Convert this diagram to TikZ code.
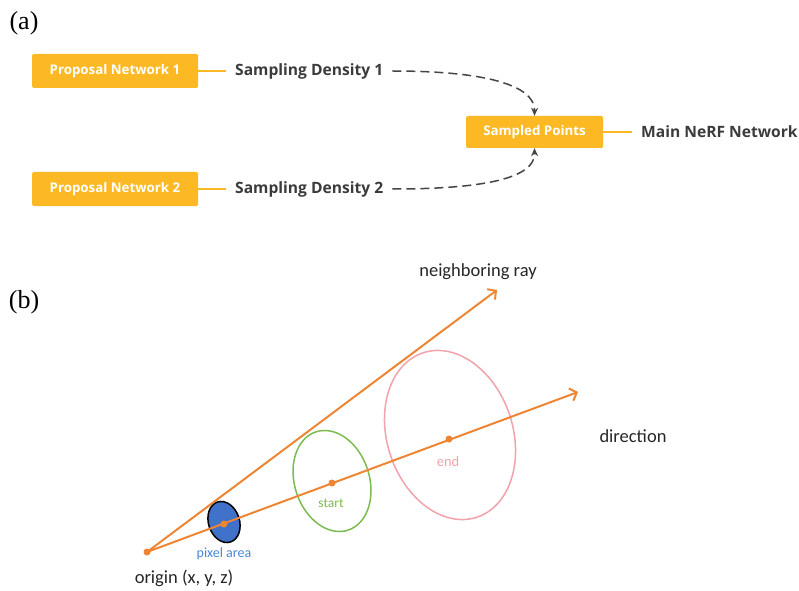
\documentclass[tikz,border=0pt]{standalone}
\usepackage{fontspec}
\setmainfont{Liberation Serif}
\newfontfamily\uifont{Open Sans}
\newfontfamily\calfont{Carlito}
\usetikzlibrary{arrows.meta}
\definecolor{amber}{HTML}{FDB924}
\definecolor{darktxt}{HTML}{3B3B3B}
\definecolor{dashgray}{HTML}{454545}
\definecolor{rayorange}{HTML}{EE8533}
\definecolor{startgreen}{HTML}{7CBB4F}
\definecolor{endpink}{HTML}{F2A2AA}
\definecolor{pixblue}{HTML}{3F72C8}
\definecolor{pixtxt}{HTML}{4A86D8}
\tikzset{
  x=1pt, y=1pt,
  ybox/.style={fill=amber, rounded corners=1.5pt, text=white, font=\uifont\bfseries\fontsize{13.3}{15}\selectfont, inner sep=0pt},
  lbl/.style={text=darktxt, font=\uifont\bfseries\fontsize{15.6}{18}\selectfont, inner xsep=9pt, inner ysep=0pt, anchor=west},
  link/.style={amber, line width=1.5pt},
  dashlink/.style={dashgray, line width=1.5pt, dash pattern=on 9pt off 5pt, -{Stealth[length=8pt,width=7pt]}},
  ray/.style={rayorange, line width=2pt, -{Straight Barb[length=6pt,width=13pt,line width=2pt]}},
  dotmark/.style={circle, fill=rayorange, inner sep=0pt, minimum size=7pt},
  caltxt/.style={font=\calfont\fontsize{18.5}{21}\selectfont, text=black!85}
}
\begin{document}
\begin{tikzpicture}
\useasboundingbox (0,0) rectangle (799,590);
% (a)
\node[font=\fontsize{26}{28}\selectfont] (la) at (24,567) {(a)};
\node[ybox, minimum width=166pt, minimum height=34pt] (pn1) at (115,519) {Proposal Network 1};
\node[ybox, minimum width=166pt, minimum height=34pt] (pn2) at (115,401) {Proposal Network 2};
\node[ybox, minimum width=137pt, minimum height=32pt] (sp) at (534.5,458) {Sampled Points};
\node[lbl] (sd1) at (226,519) {Sampling Density 1};
\node[lbl] (sd2) at (226,401) {Sampling Density 2};
\node[lbl] (mnn) at (632,458) {Main NeRF Network};
\draw[link] (pn1.east) -- (sd1.west);
\draw[link] (pn2.east) -- (sd2.west);
\draw[link] (sp.east) -- (mnn.west);
\draw[dashlink] (sd1.east) .. controls (485,519) and (535,505) .. (sp.north);
\draw[dashlink] (sd2.east) .. controls (485,401) and (535,412) .. (sp.south);
% (b)
\node[font=\fontsize{26}{28}\selectfont] (lb) at (24,288) {(b)};
\coordinate (o) at (147,38);
\coordinate (ntip) at (497,300);
\coordinate (dtip) at (578,198);
\coordinate (pc) at (224,68);
\coordinate (sc) at (332,109);
\coordinate (ec) at (450,155);
\draw[fill=pixblue, draw=black, line width=1.5pt, rotate around={18:(pc)}] (pc) ellipse (15.5 and 21);
\draw[startgreen, line width=1.5pt, rotate around={18:(sc)}] (sc) ellipse (37.4 and 51.7);
\draw[endpink, line width=1.5pt, rotate around={18:(ec)}] (ec) ellipse (62.9 and 86.5);
\draw[ray] (o) -- (ntip);
\draw[ray] (o) -- (dtip);
\node[dotmark] (od) at (o) {};
\node[dotmark] (pd) at (224,66) {};
\node[dotmark] (sd) at (332,107) {};
\node[dotmark] (ed) at (449,151) {};
\node[caltxt] (ot) at (184,12) {origin (x, y, z)};
\node[caltxt] (nt) at (478,318) {neighboring ray};
\node[caltxt] (dt) at (633,154) {direction};
\node[font=\calfont\fontsize{14}{16}\selectfont, text=pixtxt] (pt) at (224,36) {pixel area};
\node[font=\calfont\fontsize{13.5}{15}\selectfont, text=startgreen] (st) at (331,87) {start};
\node[font=\calfont\fontsize{14.5}{16}\selectfont, text=endpink] (et) at (448,128) {end};
\end{tikzpicture}
\end{document}
